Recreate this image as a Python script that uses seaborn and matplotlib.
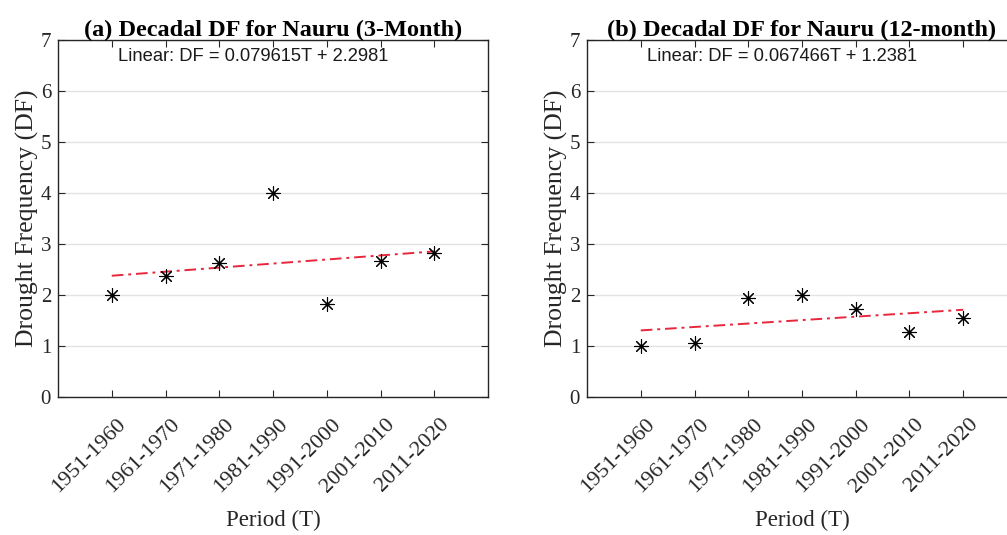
import numpy as np
import pandas as pd
import matplotlib
matplotlib.use("Agg")
import matplotlib.pyplot as plt
import matplotlib.transforms as mtransforms
import seaborn as sns

# Decadal drought frequency for Nauru
periods = ["1951-1960", "1961-1970", "1971-1980", "1981-1990",
           "1991-2000", "2001-2010", "2011-2020"]
period_index = [1, 2, 3, 4, 5, 6, 7]
df_3month = [2.00, 2.38, 2.62, 4.00, 1.82, 2.67, 2.82]
df_12month = [1.00, 1.06, 1.94, 2.00, 1.73, 1.27, 1.55]

# Linear trend coefficients (DF = slope*T + intercept)
fit_3month = (0.079615, 2.2981)
fit_12month = (0.067466, 1.2381)

titles = ["(a) Decadal DF for Nauru (3-Month)",
          "(b) Decadal DF for Nauru (12-month)"]

sns.set_theme(style="white")
plt.rcParams["font.family"] = ["Liberation Serif", "DejaVu Serif"]

W, H = 1007, 535
fig = plt.figure(figsize=(W / 100, H / 100), dpi=100)
fig.patch.set_facecolor("white")

axis_color = "#262626"
trend_color = "#e8263c"

panels = [
    (58, df_3month, fit_3month, titles[0]),
    (587, df_12month, fit_12month, titles[1]),
]

for left_px, values, (slope, intercept), title in panels:
    ax = fig.add_axes([left_px / W, 1 - 397 / H, 430 / W, 357 / H])
    data = pd.DataFrame({"T": period_index, "DF": values})
    trend = pd.DataFrame({"T": period_index,
                          "DF": [slope * t + intercept for t in period_index]})

    ax.yaxis.grid(True, color="#e3e3e3", linewidth=1.0)
    ax.set_axisbelow(True)

    sns.lineplot(data=trend, x="T", y="DF", ax=ax, color=trend_color,
                 linestyle=(0, (6, 2.5, 1.5, 2.5)), linewidth=1.4, zorder=2)
    sns.scatterplot(data=data, x="T", y="DF", ax=ax, marker=(8, 2, 0),
                    s=100, color="black", edgecolor="black", linewidth=0.8,
                    zorder=3)

    ax.set_xlim(0, 8)
    ax.set_ylim(0, 7)
    ax.set_xticks(period_index)
    ax.set_yticks(range(0, 8))
    ax.set_yticklabels([str(v) for v in range(0, 8)], fontsize=15,
                       color=axis_color)

    ax.tick_params(axis="both", direction="in", length=5, width=0.8,
                   color=axis_color, top=True, right=True,
                   bottom=True, left=True)
    ax.tick_params(axis="y", pad=5)
    ax.tick_params(axis="x", pad=4)

    ax.set_xticklabels(periods, rotation=45, ha="right", va="top",
                       rotation_mode="anchor", fontsize=16, color=axis_color)
    shift = mtransforms.ScaledTranslation(5 / 100, -12 / 100, fig.dpi_scale_trans)
    for lab in ax.get_xticklabels():
        lab.set_transform(lab.get_transform() + shift)

    for sp in ax.spines.values():
        sp.set_visible(True)
        sp.set_color(axis_color)
        sp.set_linewidth(1.0)

    ax.set_xlabel("Period (T)", fontsize=16.5, color=axis_color)
    ax.xaxis.set_label_coords(0.5, -0.3165)
    ax.set_ylabel("Drought Frequency (DF)", fontsize=18.5, color=axis_color,
                  labelpad=1)
    ax.set_title(title, fontsize=17.5, fontweight="bold", color="black", pad=3)

    ax.text(60 / 430, 0.955,
            f"Linear: DF = {slope:g}T + {intercept:g}",
            transform=ax.transAxes, ha="left", va="center",
            fontsize=13.2, family=["Liberation Sans", "DejaVu Sans"],
            color="#1a1a1a")

fig.savefig("out.png", dpi=100, facecolor="white")
